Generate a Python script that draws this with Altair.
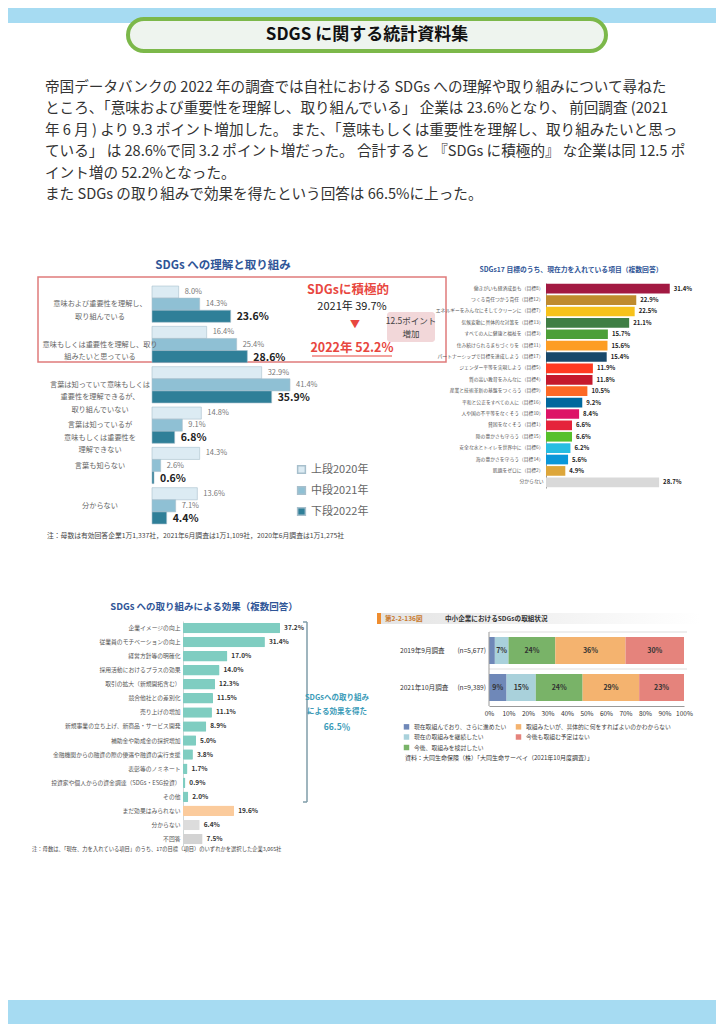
import altair as alt
import pandas as pd

FONT = "Noto Sans CJK JP"

# ---------------- data ----------------
header_title = "SDGS に関する統計資料集"
paragraph_lines = [
    "帝国データバンクの 2022 年の調査では自社における SDGs への理解や取り組みについて尋ねた",
    "ところ、「意味および重要性を理解し、取り組んでいる」 企業は 23.6%となり、 前回調査 (2021",
    "年 6 月 ) より 9.3 ポイント増加した。 また、「意味もしくは重要性を理解し、取り組みたいと思っ",
    "ている」 は 28.6%で同 3.2 ポイント増だった。 合計すると 『SDGs に積極的』 な企業は同 12.5 ポ",
    "イント増の 52.2%となった。",
    "また SDGs の取り組みで効果を得たという回答は 66.5%に上った。",
]

c1_title = "SDGs への理解と取り組み"
c1_categories = [
    "意味および重要性を理解し、\n取り組んでいる",
    "意味もしくは重要性を理解し、取り\n組みたいと思っている",
    "言葉は知っていて意味もしくは\n重要性を理解できるが、\n取り組んでいない",
    "言葉は知っているが\n意味もしくは重要性を\n理解できない",
    "言葉も知らない",
    "分からない",
]
c1_series = ["上段2020年", "中段2021年", "下段2022年"]
c1_2020 = [8.0, 16.4, 32.9, 14.8, 14.3, 13.6]
c1_2021 = [14.3, 25.4, 41.4, 9.1, 2.6, 7.1]
c1_2022 = [23.6, 28.6, 35.9, 6.8, 0.6, 4.4]
c1_badge = "SDGsに積極的"
c1_y2021 = "2021年  39.7%"
c1_y2022 = "2022年  52.2%"
c1_increase = ["12.5ポイント", "増加"]
c1_note = "注：母数は有効回答企業1万1,337社，2021年6月調査は1万1,109社，2020年6月調査は1万1,275社"

c2_title = "SDGs17 目標のうち、現在力を入れている項目（複数回答）"
c2_labels = [
    "働きがいも経済成長も（目標8）",
    "つくる責任つかう責任（目標12）",
    "エネルギーをみんなにそしてクリーンに（目標7）",
    "気候変動に具体的な対策を（目標13）",
    "すべての人に健康と福祉を（目標3）",
    "住み続けられるまちづくりを（目標11）",
    "パートナーシップで目標を達成しよう（目標17）",
    "ジェンダー平等を実現しよう（目標5）",
    "質の高い教育をみんなに（目標4）",
    "産業と技術革新の基盤をつくろう（目標9）",
    "平和と公正をすべての人に（目標16）",
    "人や国の不平等をなくそう（目標10）",
    "貧困をなくそう（目標1）",
    "陸の豊かさも守ろう（目標15）",
    "安全な水とトイレを世界中に（目標6）",
    "海の豊かさを守ろう（目標14）",
    "飢餓をゼロに（目標2）",
    "分からない",
]
c2_values = [31.4, 22.9, 22.5, 21.1, 15.7, 15.6, 15.4, 11.9, 11.8, 10.5,
             9.2, 8.4, 6.6, 6.6, 6.2, 5.6, 4.9, 28.7]

c3_title = "SDGs への取り組みによる効果（複数回答）"
c3_labels = [
    "企業イメージの向上",
    "従業員のモチベーションの向上",
    "経営方針等の明確化",
    "採用活動におけるプラスの効果",
    "取引の拡大（新規開拓含む）",
    "競合他社との差別化",
    "売り上げの増加",
    "新規事業の立ち上げ、新商品・サービス開発",
    "補助金や助成金の採択増加",
    "金融機関からの融資の際の優遇や融資の実行支援",
    "表彰等のノミネート",
    "投資家や個人からの資金調達（SDGs・ESG投資）",
    "その他",
    "まだ効果はみられない",
    "分からない",
    "不回答",
]
c3_values = [37.2, 31.4, 17.0, 14.0, 12.3, 11.5, 11.1, 8.9, 5.0, 3.8,
             1.7, 0.9, 2.0, 19.6, 6.4, 7.5]
c3_bracket_text = ["SDGsへの取り組み", "による効果を得た", "66.5％"]
c3_note = "注：母数は、「現在、力を入れている項目」のうち、17の目標（項目）のいずれかを選択した企業3,065社"

c4_fig_no = "第2-2-136図"
c4_title = "中小企業におけるSDGsの取組状況"
c4_rows = ["2019年9月調査", "2021年10月調査"]
c4_n = ["(n=5,677)", "(n=9,389)"]
c4_answers = [
    "現在取組んでおり、さらに進めたい",
    "現在の取組みを継続したい",
    "今後、取組みを検討したい",
    "取組みたいが、具体的に何をすればよいのかわからない",
    "今後も取組む予定はない",
]
c4_2019 = [3, 7, 24, 36, 30]
c4_2021 = [9, 15, 24, 29, 23]
c4_ticks = [0, 10, 20, 30, 40, 50, 60, 70, 80, 90, 100]
c4_source = "資料：大同生命保険（株）「大同生命サーベイ（2021年10月度調査）」"

# ---------------- styles ----------------
c1_colors = ["#dcebf3", "#8fc0d4", "#2f7f98"]
c2_colors = ["#a21942", "#bf8b2e", "#f7c21b", "#3f7e44", "#4c9f38", "#fd9d24",
             "#19486a", "#ff3a21", "#c5192d", "#fd6925", "#00689d", "#dd1367",
             "#e5243b", "#56c02b", "#26bde2", "#0a97d9", "#dda63a", "#d9d9d9"]
c3_colors = ["#7fcdc1"] * 13 + ["#fbcb9c", "#dcdcdc", "#d3d3d3"]
c4_colors = ["#6f88b8", "#a9d1db", "#79b368", "#f4b36f", "#e5837c"]
BLUE_TITLE = "#2f5597"

one = pd.DataFrame({"k": [0]})


def label(text, x, y, size, color="#333", bold=False, align="left", baseline="middle"):
    return alt.Chart(one).mark_text(
        text=text, fontSize=size, color=color, font=FONT,
        fontWeight="bold" if bold else "normal", align=align, baseline=baseline,
    ).encode(x=alt.value(x), y=alt.value(y))


def box(x, x2, y, y2, **kw):
    return alt.Chart(one).mark_rect(**kw).encode(
        x=alt.value(x), x2=alt.value(x2), y=alt.value(y), y2=alt.value(y2))


def line(x, x2, y, y2, color, width):
    return alt.Chart(one).mark_rule(color=color, strokeWidth=width).encode(
        x=alt.value(x), x2=alt.value(x2), y=alt.value(y), y2=alt.value(y2))


def spacer(w, h=10):
    return box(0, 1, 0, 1, opacity=0).properties(width=w, height=h)


# ---------------- header + paragraph ----------------
p0_layers = [
    box(0, 708, 0, 15, color="#a6dbf2"),
    box(120, 598, 11, 43, fill="#eef4ee", stroke="#7cb84a", strokeWidth=4, cornerRadius=16),
    label(header_title, 359, 27, 17, "#111", bold=True, align="center"),
]
for i, t in enumerate(paragraph_lines):
    p0_layers.append(label(t, 37, 80 + 21.4 * i, 14.6, "#333"))
p0 = alt.layer(*p0_layers).properties(width=708, height=242)

# ---------------- chart 1 ----------------
rows = []
for s, vals in zip(c1_series, [c1_2020, c1_2021, c1_2022]):
    for c, v in zip(c1_categories, vals):
        rows.append({"cat": c, "series": s, "value": v})
df1 = pd.DataFrame(rows)

y1 = alt.Y("cat:N", sort=c1_categories, axis=None,
           scale=alt.Scale(range=[34, 276], paddingInner=0.1, paddingOuter=0.05))
x1 = alt.X("value:Q", axis=None, scale=alt.Scale(domain=[0, 90], range=[0, 300]))
yo1 = alt.YOffset("series:N", sort=c1_series, scale=alt.Scale(paddingInner=0, paddingOuter=0))

bars1 = alt.Chart(df1).mark_bar(stroke="#a7bfcc", strokeWidth=0.6).encode(
    x=x1, y=y1, yOffset=yo1,
    color=alt.Color("series:N", sort=c1_series,
                    scale=alt.Scale(domain=c1_series, range=c1_colors),
                    legend=alt.Legend(title=None, orient="none", legendX=144, legendY=214,
                                      labelFontSize=11, labelColor="#666", symbolType="square",
                                      symbolSize=60, rowPadding=6, labelFont=FONT)),
)
vals_small = alt.Chart(df1).transform_filter(
    alt.FieldOneOfPredicate(field="series", oneOf=c1_series[:2])
).transform_calculate(lbl="format(datum.value, '.1f') + '%'").mark_text(
    align="left", dx=6, fontSize=7.5, color="#777", font=FONT
).encode(x=x1, y=y1, yOffset=yo1, text="lbl:N")
vals_big = alt.Chart(df1).transform_filter(
    alt.FieldEqualPredicate(field="series", equal=c1_series[2])
).transform_calculate(lbl="format(datum.value, '.1f') + '%'").mark_text(
    align="left", dx=6, dy=1, fontSize=10.5, fontWeight="bold", color="#222", font=FONT
).encode(x=x1, y=y1, yOffset=yo1, text="lbl:N")
cats1 = alt.Chart(df1).transform_filter(
    alt.FieldEqualPredicate(field="series", equal=c1_series[1])
).mark_text(align="center", lineBreak="\n", fontSize=7.2, lineHeight=12.5,
            color="#666", font=FONT).encode(x=alt.value(-52), y=y1, text="cat:N")

c1 = alt.layer(
    box(-114, 294, 27, 112, fill="white", fillOpacity=0, stroke="#e07b7b", strokeWidth=1.5),
    bars1, vals_small, vals_big, cats1,
    label(c1_title, 71, 16, 11.5, BLUE_TITLE, bold=True, align="center"),
    label(c1_badge, 196, 40, 12.5, "#e8473f", bold=True, align="center"),
    label(c1_y2021, 200, 57, 11, "#222", align="center"),
    label("▼", 203, 75, 10, "#e8473f", align="center"),
    label(c1_y2022, 200, 98, 12.5, "#e8473f", bold=True, align="center"),
    line(160, 240, 106, 106, "#e8473f", 1.2),
    box(235, 283, 62, 92, color="#f2d7d9", cornerRadius=3),
    label(c1_increase[0], 259, 71, 8.5, "#444", align="center"),
    label(c1_increase[1], 259, 84, 8.5, "#444", align="center"),
    label(c1_note, -105, 286, 6.8, "#444"),
).properties(width=394, height=310)

# ---------------- chart 2 ----------------
df2 = pd.DataFrame({"label": c2_labels, "value": c2_values})
y2 = alt.Y("label:N", sort=c2_labels, title=None,
           scale=alt.Scale(range=[33, 238], paddingInner=0.15, paddingOuter=0.075),
           axis=alt.Axis(labelFontSize=4.8, labelColor="#555", ticks=False, domainColor="#999",
                         labelPadding=3, labelLimit=0, labelFont=FONT))
x2 = alt.X("value:Q", axis=None, scale=alt.Scale(domain=[0, 34], range=[0, 134]))
bars2 = alt.Chart(df2).mark_bar().encode(
    x=x2, y=y2,
    color=alt.Color("label:N", scale=alt.Scale(domain=c2_labels, range=c2_colors), legend=None))
text2 = alt.Chart(df2).transform_calculate(lbl="format(datum.value, '.1f') + '%'").mark_text(
    align="left", dx=4, fontSize=6, fontWeight="bold", color="#222", font=FONT
).encode(x=x2, y=y2, text="lbl:N")
c2 = alt.layer(
    bars2, text2,
    label(c2_title, 25, 20, 6.8, BLUE_TITLE, bold=True, align="center"),
).properties(width=170, height=310)

# ---------------- chart 3 ----------------
df3 = pd.DataFrame({"label": c3_labels, "value": c3_values})
y3 = alt.Y("label:N", sort=c3_labels, title=None,
           scale=alt.Scale(range=[61, 286], paddingInner=0.25, paddingOuter=0.125),
           axis=alt.Axis(labelFontSize=5.8, labelColor="#555", ticks=False, domainColor="#cfd8d8",
                         labelPadding=3, labelLimit=0, labelFont=FONT))
x3 = alt.X("value:Q", axis=None, scale=alt.Scale(domain=[0, 46], range=[0, 120]))
bars3 = alt.Chart(df3).mark_bar(cornerRadius=1).encode(
    x=x3, y=y3,
    color=alt.Color("label:N", scale=alt.Scale(domain=c3_labels, range=c3_colors), legend=None))
text3 = alt.Chart(df3).transform_calculate(lbl="format(datum.value, '.1f') + '%'").mark_text(
    align="left", dx=4, fontSize=6.5, fontWeight="bold", color="#333", font=FONT
).encode(x=x3, y=y3, text="lbl:N")
c3 = alt.layer(
    bars3, text3,
    label(c3_title, 21, 47, 9.5, BLUE_TITLE, bold=True, align="center"),
    line(124, 124, 62, 242, "#7f9ca8", 1.5),
    line(120, 124, 62, 62, "#7f9ca8", 1.5),
    line(120, 124, 242, 242, "#7f9ca8", 1.5),
    line(124, 128, 153, 153, "#7f9ca8", 1.5),
    label(c3_bracket_text[0], 154, 138, 7.5, "#3a9bb8", bold=True, align="center"),
    label(c3_bracket_text[1], 154, 152, 7.5, "#3a9bb8", bold=True, align="center"),
    label(c3_bracket_text[2], 154, 167, 8.5, "#3a9bb8", bold=True, align="center"),
    label(c3_note, -151, 289, 5.3, "#444"),
).properties(width=306, height=310)

# ---------------- chart 4 ----------------
rows = []
for r, n, vals in zip(c4_rows, c4_n, [c4_2019, c4_2021]):
    for i, (a, v) in enumerate(zip(c4_answers, vals)):
        rows.append({"row": r, "n": n, "answer": a, "value": v, "idx": i})
df4 = pd.DataFrame(rows)

y4 = alt.Y("row:N", sort=c4_rows, axis=None,
           scale=alt.Scale(range=[72, 146], paddingInner=0.27, paddingOuter=0.135))
x4_scale = alt.Scale(domain=[0, 100], range=[0, 195])
x4_axis = alt.Axis(values=c4_ticks, labelOverlap=False, labelBound=False, labelFlush=False,
                   labelExpr="datum.value + '%'", labelFontSize=6.5, labelColor="#333",
                   ticks=False, grid=False, domainColor="#999", labelPadding=4,
                   labelFont=FONT, title=None)
bars4 = alt.Chart(df4).mark_bar().encode(
    x=alt.X("value:Q", stack="zero", scale=x4_scale, axis=x4_axis),
    y=y4,
    color=alt.Color("answer:N", scale=alt.Scale(domain=c4_answers, range=c4_colors),
                    legend=alt.Legend(title=None, orient="none", legendX=-86, legendY=163,
                                      columns=2, columnPadding=8, rowPadding=3.5,
                                      gridAlign="each",
                                      labelFontSize=5.8, labelColor="#444", symbolType="square",
                                      symbolSize=30, labelLimit=0, labelFont=FONT)),
    order=alt.Order("idx:Q"),
)
text4 = alt.Chart(df4).transform_stack(
    stack="value", as_=["v0", "v1"], groupby=["row"],
    sort=[alt.SortField("idx", order="ascending")],
).transform_calculate(mid="(datum.v0 + datum.v1) / 2", lbl="datum.value + '%'").transform_filter(
    "datum.value >= 5"
).mark_text(fontSize=7, fontWeight="bold", color="#333", font=FONT).encode(
    x=alt.X("mid:Q", scale=x4_scale, axis=x4_axis), y=y4, text="lbl:N")
rowlab4 = alt.Chart(df4).transform_filter("datum.idx == 0").mark_text(
    align="left", fontSize=6.6, color="#333", font=FONT).encode(x=alt.value(-89), y=y4, text="row:N")
nlab4 = alt.Chart(df4).transform_filter("datum.idx == 0").mark_text(
    align="right", fontSize=6.6, color="#333", font=FONT).encode(x=alt.value(-3), y=y4, text="n:N")

c4 = alt.layer(
    box(-112, 211, 53, 64, color=alt.LinearGradient(
        gradient="linear", x1=0, x2=1, y1=0, y2=0,
        stops=[alt.GradientStop(color="#e4e4e4", offset=0),
               alt.GradientStop(color="#ffffff", offset=1)])),
    box(-112, -108, 53, 64, color="#ef8d2f"),
    label(c4_fig_no, -104, 58.5, 6.6, "#c8782a", bold=True),
    label(c4_title, -44, 58.5, 6.6, "#333", bold=True),
    line(0, 198, 72, 72, "#dddddd", 1),
    line(0, 198, 109, 109, "#dddddd", 1),
    bars4, text4, rowlab4, nlab4,
    line(0, 0, 72, 146, "#999999", 1),
    label(c4_source, -84, 198, 6, "#333"),
).properties(width=195, height=146)

# ---------------- footer ----------------
p3 = alt.layer(box(0, 708, 130, 154, color="#a6dbf2")).properties(width=708, height=154)

row1 = alt.hconcat(spacer(144), c1, c2, spacing=0, bounds="flush").resolve_scale(color="independent")
row2 = alt.hconcat(spacer(175), c3, c4, spacing=0, bounds="flush").resolve_scale(color="independent")

chart = alt.vconcat(p0, row1, row2, p3, spacing=0).resolve_scale(
    color="independent"
).properties(padding=0).configure(font=FONT).configure_view(stroke=None)

chart.save("out.html", embed_options={"renderer": "svg", "actions": False})
